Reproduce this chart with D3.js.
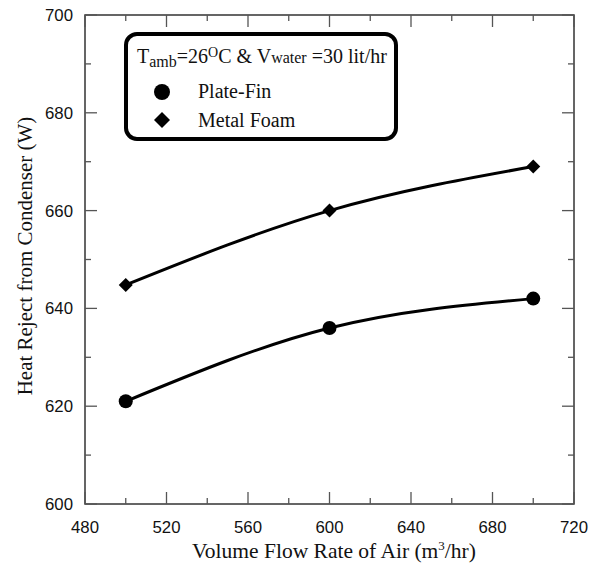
<!DOCTYPE html>
<html><head><meta charset="utf-8">
<script src="https://cdn.jsdelivr.net/npm/d3@7"></script>
<style>body{margin:0;background:#fff}</style>
</head><body>
<svg id="c" width="596" height="566"></svg>
<script>
const flowRates = [500, 600, 700];
const plateFin = [621, 636, 642];
const metalFoam = [644.8, 660, 669];
const xTicks = [480, 520, 560, 600, 640, 680, 720];
const yTicks = [600, 620, 640, 660, 680, 700];

const svg = d3.select("#c");
const L = 85, R = 574, T = 15, B = 504;
const x = d3.scaleLinear().domain([480, 720]).range([L, R]);
const y = d3.scaleLinear().domain([600, 700]).range([B, T]);

const minorX = d3.range(500, 720, 40);
const minorY = d3.range(610, 700, 20);
const tickCol = "#555";

// frame
svg.append("rect").attr("x", L).attr("y", T).attr("width", R - L).attr("height", B - T)
  .attr("fill", "none").attr("stroke", "#333").attr("stroke-width", 1.5);

const tg = svg.append("g").attr("stroke", tickCol).attr("stroke-width", 1.3);
xTicks.forEach(v => {
  tg.append("line").attr("x1", x(v)).attr("x2", x(v)).attr("y1", B).attr("y2", B - 12);
  tg.append("line").attr("x1", x(v)).attr("x2", x(v)).attr("y1", T).attr("y2", T + 12);
});
minorX.forEach(v => {
  tg.append("line").attr("x1", x(v)).attr("x2", x(v)).attr("y1", B).attr("y2", B - 6);
  tg.append("line").attr("x1", x(v)).attr("x2", x(v)).attr("y1", T).attr("y2", T + 6);
});
yTicks.forEach(v => {
  tg.append("line").attr("x1", L).attr("x2", L + 12).attr("y1", y(v)).attr("y2", y(v));
  tg.append("line").attr("x1", R).attr("x2", R - 12).attr("y1", y(v)).attr("y2", y(v));
});
minorY.forEach(v => {
  tg.append("line").attr("x1", L).attr("x2", L + 6).attr("y1", y(v)).attr("y2", y(v));
  tg.append("line").attr("x1", R).attr("x2", R - 6).attr("y1", y(v)).attr("y2", y(v));
});

// tick labels
const sans = "Liberation Sans, Arial, sans-serif";
const serif = "Liberation Serif, Times New Roman, serif";
xTicks.forEach(v => svg.append("text").attr("x", x(v)).attr("y", 533)
  .attr("text-anchor", "middle").attr("font-family", sans).attr("font-size", 16.8).attr("fill", "#111").text(v));
yTicks.forEach(v => svg.append("text").attr("x", 73).attr("y", y(v) + 6)
  .attr("text-anchor", "end").attr("font-family", sans).attr("font-size", 16.8).attr("fill", "#111").text(v));

// axis titles
svg.append("text").attr("x", 334).attr("y", 558).attr("text-anchor", "middle")
  .attr("font-family", serif).attr("font-size", 21.5).attr("fill", "#111")
  .html('Volume Flow Rate of Air (m<tspan dy="-8" font-size="13">3</tspan><tspan dy="8">/hr)</tspan>');
svg.append("text").attr("transform", `translate(32,256) rotate(-90)`).attr("text-anchor", "middle")
  .attr("font-family", serif).attr("font-size", 21).attr("fill", "#111")
  .text("Heat Reject from Condenser (W)");

// series
const line = d3.line().x((d, i) => x(flowRates[i])).y(d => y(d)).curve(d3.curveMonotoneX);
[plateFin, metalFoam].forEach(s => svg.append("path").attr("d", line(s))
  .attr("fill", "none").attr("stroke", "#000").attr("stroke-width", 3));

plateFin.forEach((v, i) => svg.append("circle").attr("cx", x(flowRates[i])).attr("cy", y(v)).attr("r", 7).attr("fill", "#000"));
const diamond = (cx, cy, s) => `M${cx},${cy - s}L${cx + s},${cy}L${cx},${cy + s}L${cx - s},${cy}Z`;
metalFoam.forEach((v, i) => svg.append("path").attr("d", diamond(x(flowRates[i]), y(v), 7)).attr("fill", "#000"));

// legend
svg.append("rect").attr("x", 126).attr("y", 34).attr("width", 270).attr("height", 105).attr("rx", 11)
  .attr("fill", "#fff").attr("stroke", "#000").attr("stroke-width", 4);
svg.append("text").attr("x", 137).attr("y", 63).attr("font-family", serif).attr("font-size", 20).attr("fill", "#111")
  .html('T<tspan dy="4" font-size="16">amb</tspan><tspan dy="-4">=26</tspan><tspan dy="-6" font-size="14">O</tspan><tspan dy="6">C &amp; V</tspan><tspan font-size="16">water</tspan><tspan> =30 lit/hr</tspan>');
svg.append("circle").attr("cx", 162).attr("cy", 92).attr("r", 8).attr("fill", "#000");
svg.append("path").attr("d", diamond(162, 120, 8)).attr("fill", "#000");
svg.append("text").attr("x", 198).attr("y", 98).attr("font-family", serif).attr("font-size", 20).attr("fill", "#111").text("Plate-Fin");
svg.append("text").attr("x", 198).attr("y", 127).attr("font-family", serif).attr("font-size", 20).attr("fill", "#111").text("Metal Foam");
</script>
</body></html>
